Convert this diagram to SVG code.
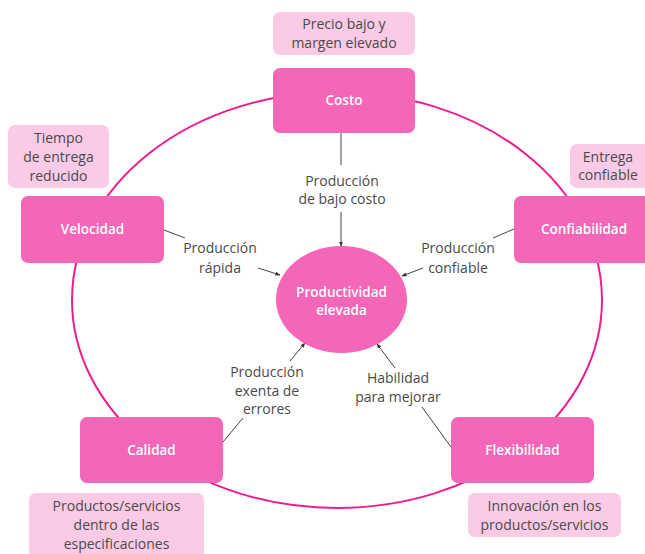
<svg xmlns="http://www.w3.org/2000/svg" width="645" height="554" viewBox="0 0 645 554">
<defs>
<style>
.ring{fill:none;stroke:#ec1e8f;stroke-width:2}
.node{fill:#f466b8}
.note{fill:#fbcae6}
.nt{font-family:"Open Sans","Liberation Sans",sans-serif;font-size:13.5px;font-weight:600;fill:#ffffff;text-anchor:middle}
.tx{font-family:"Open Sans","Liberation Sans",sans-serif;font-size:14px;fill:#4a4a4a;text-anchor:middle}
.ln{fill:none;stroke:#444;stroke-width:1}
.ar{fill:none;stroke:#444;stroke-width:1;marker-end:url(#ah)}
</style>
<marker id="ah" viewBox="0 0 10 10" refX="9" refY="5" markerWidth="5" markerHeight="5" orient="auto" markerUnits="userSpaceOnUse">
<path d="M0,1 L10,5 L0,9 z" fill="#333"/>
</marker>
</defs>
<rect width="645" height="554" fill="#ffffff"/>
<ellipse class="ring" cx="337" cy="300" rx="265" ry="208"/>
<g id="connectors">
<line class="ln" x1="341" y1="133" x2="341" y2="165"/>
<line class="ar" x1="341" y1="212" x2="341" y2="246"/>
<line class="ln" x1="164" y1="230" x2="185" y2="238"/>
<line class="ar" x1="258" y1="268" x2="280" y2="275"/>
<line class="ln" x1="514" y1="229" x2="493" y2="238"/>
<line class="ar" x1="423" y1="268" x2="402" y2="276"/>
<line class="ar" x1="290" y1="361" x2="305" y2="343"/>
<line class="ln" x1="243" y1="418" x2="223" y2="442"/>
<line class="ar" x1="395" y1="368" x2="377" y2="344"/>
<line class="ln" x1="422" y1="407" x2="451" y2="447"/>
</g>
<g id="labels">
<text class="tx" x="342" y="186">Producción</text>
<text class="tx" x="342" y="204">de bajo costo</text>
<text class="tx" x="220" y="253">Producción</text>
<text class="tx" x="220" y="273">rápida</text>
<text class="tx" x="458" y="253">Producción</text>
<text class="tx" x="458" y="273">confiable</text>
<text class="tx" x="267" y="377">Producción</text>
<text class="tx" x="267" y="396">exenta de</text>
<text class="tx" x="267" y="414">errores</text>
<text class="tx" x="398" y="383">Habilidad</text>
<text class="tx" x="398" y="402">para mejorar</text>
</g>
<g id="center">
<ellipse class="node" cx="341.5" cy="299.5" rx="65.5" ry="53.5"/>
<text class="nt" x="341.5" y="297">Productividad</text>
<text class="nt" x="341.5" y="315">elevada</text>
</g>
<g id="costo">
<rect class="note" x="273" y="12" width="142" height="43" rx="7"/>
<text class="tx" x="344" y="29">Precio bajo y</text>
<text class="tx" x="344" y="48">margen elevado</text>
<rect class="node" x="273" y="68" width="142" height="65" rx="7"/>
<text class="nt" x="344" y="105">Costo</text>
</g>
<g id="velocidad">
<rect class="note" x="8" y="125" width="101" height="63" rx="7"/>
<text class="tx" x="58.5" y="143">Tiempo</text>
<text class="tx" x="58.5" y="162">de entrega</text>
<text class="tx" x="58.5" y="181">reducido</text>
<rect class="node" x="21" y="196" width="143" height="67" rx="7"/>
<text class="nt" x="92.5" y="234">Velocidad</text>
</g>
<g id="confiabilidad">
<rect class="note" x="570" y="144" width="80" height="44" rx="7"/>
<text class="tx" x="608" y="162">Entrega</text>
<text class="tx" x="608" y="180">confiable</text>
<rect class="node" x="514" y="196" width="145" height="67" rx="7"/>
<text class="nt" x="584" y="234">Confiabilidad</text>
</g>
<g id="calidad">
<rect class="node" x="80" y="417" width="143" height="66" rx="7"/>
<text class="nt" x="151.5" y="455">Calidad</text>
<rect class="note" x="29" y="493" width="175" height="66" rx="7"/>
<text class="tx" x="116.5" y="511">Productos/servicios</text>
<text class="tx" x="116.5" y="530">dentro de las</text>
<text class="tx" x="116.5" y="549">especificaciones</text>
</g>
<g id="flexibilidad">
<rect class="node" x="451" y="417" width="143" height="66" rx="7"/>
<text class="nt" x="522.5" y="455">Flexibilidad</text>
<rect class="note" x="468" y="493" width="153" height="44" rx="7"/>
<text class="tx" x="544.5" y="511">Innovación en los</text>
<text class="tx" x="544.5" y="530">productos/servicios</text>
</g>
</svg>
